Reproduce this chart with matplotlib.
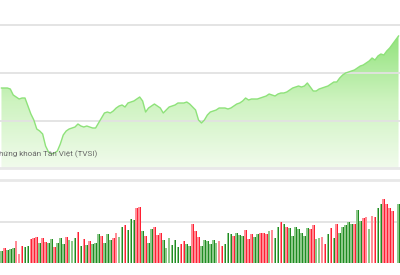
import numpy as np
import matplotlib
matplotlib.use('Agg')
import matplotlib.pyplot as plt
from matplotlib.colors import LinearSegmentedColormap

# closing index (arbitrary units) per session
price = [80, 80, 80, 79, 73, 71, 69, 70, 70, 62,
         54, 48, 39, 37, 34, 22, 16, 14, 15, 17,
         24, 33, 37, 39, 40, 41, 44, 42, 41, 42,
         41, 40, 40, 45, 50, 55, 56, 55, 57, 60,
         62, 63, 61, 65, 66, 67, 69, 71, 67, 56,
         60, 62, 64, 62, 60, 55, 58, 61, 62, 63,
         65, 65, 65, 66, 64, 61, 58, 48, 45, 48,
         53, 56, 57, 58, 60, 60, 60, 59, 60, 62,
         64, 65, 67, 70, 68, 69, 69, 69, 70, 71,
         72, 74, 73, 72, 74, 75, 75, 76, 78, 80,
         81, 82, 81, 82, 85, 81, 77, 77, 79, 80,
         81, 82, 84, 86, 86, 90, 93, 95, 96, 97,
         98, 100, 102, 103, 105, 107, 110, 108, 112, 114,
         113, 117, 120, 124, 128, 132]

# traded volume per session
volume = [12, 15, 13, 14, 15, 22, 9, 17, 16, 17,
          24, 25, 26, 20, 25, 21, 20, 24, 16, 20,
          25, 19, 26, 23, 22, 25, 31, 17, 24, 18,
          22, 19, 20, 29, 27, 20, 29, 23, 25, 30,
          26, 36, 38, 33, 44, 43, 55, 56, 32, 27,
          20, 34, 36, 28, 30, 23, 15, 25, 18, 23,
          16, 19, 22, 19, 17, 39, 32, 26, 17, 23,
          22, 19, 23, 20, 22, 17, 19, 30, 29, 27,
          30, 28, 27, 33, 24, 29, 26, 29, 30, 30,
          29, 32, 33, 25, 36, 41, 39, 36, 35, 27,
          36, 34, 30, 27, 35, 34, 38, 24, 25, 26,
          19, 29, 35, 25, 39, 30, 36, 38, 41, 39,
          39, 53, 42, 45, 46, 34, 47, 46, 55, 59,
          64, 59, 55, 52, 0, 59]

# g = up session, r = down session
direction = ("grgggrrrggrrrgrrggrgggrgggrgrgrgg"
             "grgggrrggrgggrrgrggrrrggggggrrggrr"
             "rggggggrrgggrgggrrrggrrrgrggrgrggg"
             "ggggrrggrrgrgrgggggrggrrgrrggrrrrgg")

n = len(price)
x = np.arange(n)

fig = plt.figure(figsize=(4, 2.75), dpi=100)
fig.patch.set_facecolor('white')

# ---- price panel
ax1 = fig.add_axes([0, 1 - 168 / 275, 1, 168 / 275])
ax1.set_xlim(-0.5, n - 0.5)
ax1.set_ylim(0, 168)
cmap = LinearSegmentedColormap.from_list('g', ['#f1fbec', '#cdf3bf', '#90e27a'])
grad = np.linspace(0, 1, 256).reshape(-1, 1)
im = ax1.imshow(grad, extent=[-0.5, n - 0.5, 0, 135], origin='lower',
                aspect='auto', cmap=cmap, zorder=1)
poly = ax1.fill_between(x, price, 0, color='none', lw=0)
im.set_clip_path(poly.get_paths()[0], transform=ax1.transData)
ax1.plot(x, price, color='#8ee27a', lw=1.0, zorder=3)
ax1.set_yticks([47, 95, 143])
ax1.grid(axis='y', color='#e2e2e2', lw=1.3, zorder=2)
ax1.set_axisbelow(False)
ax1.tick_params(left=False, bottom=False, labelleft=False, labelbottom=False)
for s in ['top', 'left', 'right']:
    ax1.spines[s].set_visible(False)
ax1.spines['bottom'].set_color('#e8e8e8')
ax1.spines['bottom'].set_linewidth(2)
ax1.text(-0.8, 14, 'hứng khoán Tân Việt (TVSI)', fontsize=5.9, family='Roboto',
         color='#6a6a6a', va='center', ha='left', zorder=4)

# ---- volume panel
ax2 = fig.add_axes([0, 1 - 263 / 275, 1, 83 / 275])
ax2.set_xlim(-0.5, n - 0.5)
ax2.set_ylim(0, 83)
light = {'g': '#8dc98a', 'r': '#ff8d96'}
dark = {'g': '#1f8a22', 'r': '#ff1f33'}
cl = [light[d] for d in direction]
cd = [dark[d] for d in direction]
ax2.bar(x - 0.15, volume, width=0.6, color=cl, lw=0, zorder=3)
ax2.bar(x + 0.3, volume, width=0.3, color=cd, lw=0, zorder=3)
ax2.set_yticks([41.5])
ax2.grid(axis='y', color='#e2e2e2', lw=1.3, zorder=1)
ax2.tick_params(left=False, bottom=False, labelleft=False, labelbottom=False)
for s in ['bottom', 'left', 'right']:
    ax2.spines[s].set_visible(False)
ax2.spines['top'].set_color('#e8e8e8')
ax2.spines['top'].set_linewidth(2)

fig.savefig('out.png', dpi=100, facecolor='white')
